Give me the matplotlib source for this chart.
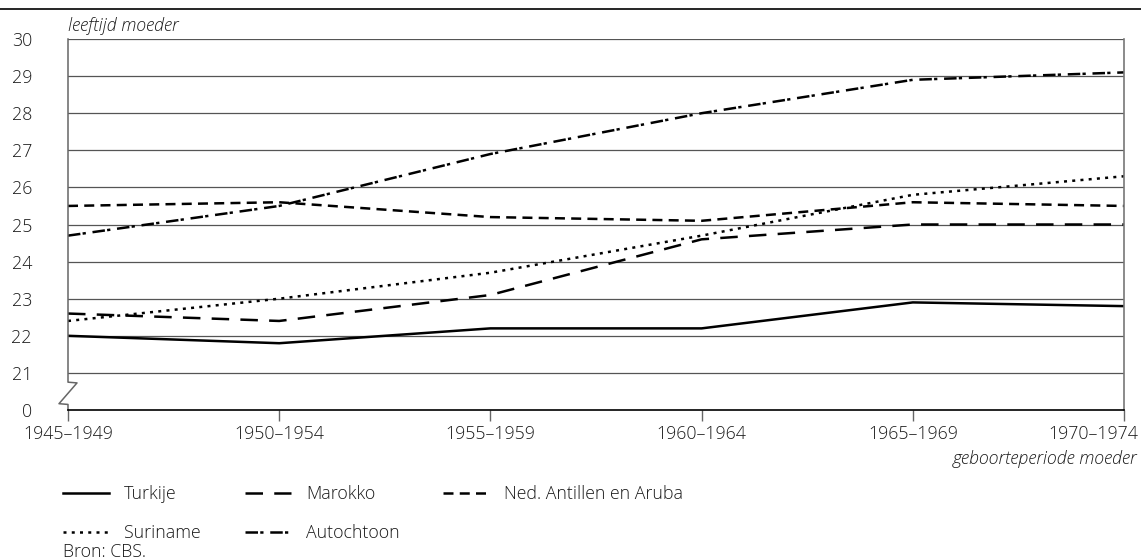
import matplotlib
matplotlib.use("Agg")
import matplotlib.pyplot as plt
from matplotlib.lines import Line2D
from matplotlib.transforms import blended_transform_factory, ScaledTranslation

categories = ["1945–1949", "1950–1954", "1955–1959", "1960–1964", "1965–1969", "1970–1974"]
turkije = [22.0, 21.8, 22.2, 22.2, 22.9, 22.8]
marokko = [22.6, 22.4, 23.1, 24.6, 25.0, 25.0]
antillen = [25.5, 25.6, 25.2, 25.1, 25.6, 25.5]
suriname = [22.4, 23.0, 23.7, 24.7, 25.8, 26.3]
autochtoon = [24.7, 25.5, 26.9, 28.0, 28.9, 29.1]
ytick_values = [20, 21, 22, 23, 24, 25, 26, 27, 28, 29, 30]
ytick_labels = ["0", "21", "22", "23", "24", "25", "26", "27", "28", "29", "30"]

plt.rcParams['font.family'] = ['Open Sans', 'DejaVu Sans']
plt.rcParams['font.weight'] = 'light'
FS = 12.8
TC = '#1a1a1a'

fig = plt.figure(figsize=(11.41, 5.59), dpi=100)
ax = fig.add_axes([68/1141, 1-410/559, (1124-68)/1141, (410-39)/559])

x = list(range(len(categories)))
lw = 1.8
h_t, = ax.plot(x, turkije, color='black', lw=lw, label='Turkije')
h_m, = ax.plot(x, marokko, color='black', lw=lw, dashes=(7, 4.5), label='Marokko')
h_n, = ax.plot(x, antillen, color='black', lw=lw, dashes=(4, 2.5), label='Ned. Antillen en Aruba')
h_s, = ax.plot(x, suriname, color='black', lw=lw, dashes=(1.2, 2.1), label='Suriname')
h_a, = ax.plot(x, autochtoon, color='black', lw=lw, dashes=(5, 0.9, 1.3, 2.7), label='Autochtoon')

ax.set_xlim(0, len(categories) - 1)
ax.set_ylim(20, 30)

for v in ytick_values[1:]:
    ax.axhline(v, color='#555555', lw=0.9, zorder=0)

ax.set_yticks(ytick_values)
ax.set_yticklabels(ytick_labels)
ax.tick_params(axis='y', length=0, pad=26, labelsize=FS, colors=TC)
ax.set_xticks(x)
ax.set_xticklabels(categories)
ax.tick_params(axis='x', length=8, width=1, color='#666666', pad=3, labelsize=FS, labelcolor=TC)
last = ax.get_xticklabels()[-1]
last.set_horizontalalignment('right')
last.set_transform(last.get_transform() + ScaledTranslation(14/100, 0, fig.dpi_scale_trans))

for s in ['top', 'left']:
    ax.spines[s].set_visible(False)
ax.spines['right'].set_color('#777777')
ax.spines['right'].set_linewidth(1.2)
ax.spines['bottom'].set_color('black')
ax.spines['bottom'].set_linewidth(1.2)

# broken left axis
tr = blended_transform_factory(ax.transAxes, ax.transData)
dx = 9 / 1056
ax.add_line(Line2D([0, 0, dx, -dx, 0, 0], [30, 20.75, 20.73, 20.17, 20.15, 20.0],
                   transform=tr, color='#666666', lw=1.1, clip_on=False))

fig.text(68/1141, 1-31/559, "leeftijd moeder", style='italic', fontsize=FS, ha='left', va='baseline', color=TC)
fig.text(1137/1141, 1-464/559, "geboorteperiode moeder", style='italic', fontsize=FS, ha='right', va='baseline', color=TC)

# top separator line
fig.add_artist(Line2D([0, 1], [1-9/559, 1-9/559], transform=fig.transFigure, color='black', lw=1.2))

handles = [h_t, h_s, h_m, h_a, h_n]
leg = fig.legend(handles=handles, labels=[h.get_label() for h in handles], ncol=3,
                 loc='upper left', bbox_to_anchor=(63/1141, 1-485/559), frameon=False,
                 fontsize=FS, handlelength=2.6, handletextpad=0.85, columnspacing=2.45,
                 labelspacing=1.2, borderaxespad=0, borderpad=0)
for t in leg.get_texts():
    t.set_color(TC)

fig.text(63/1141, 1-557/559, "Bron: CBS.", fontsize=FS, ha='left', va='baseline', color=TC)

fig.savefig("out.png", dpi=100)
